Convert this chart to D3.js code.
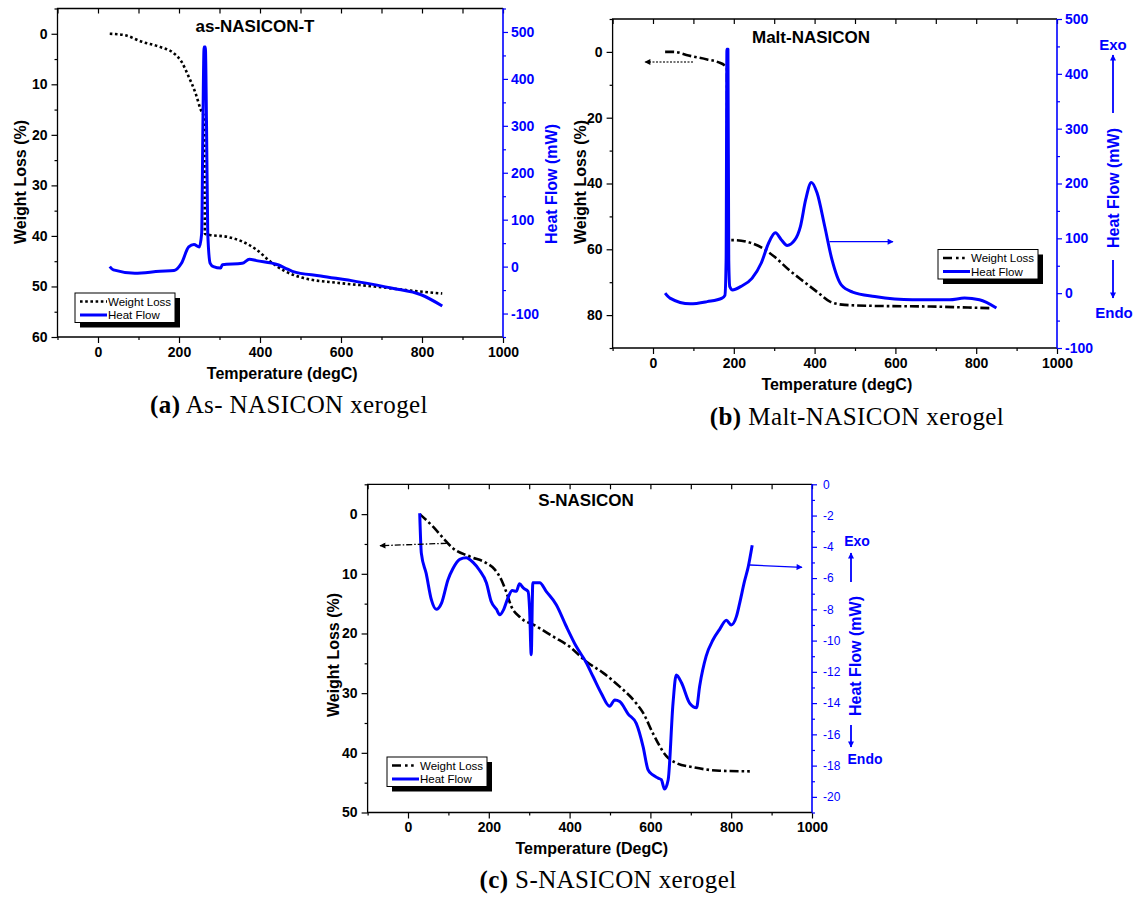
<!DOCTYPE html>
<html>
<head>
<meta charset="utf-8">
<script src="https://cdn.jsdelivr.net/npm/d3@7"></script>
<style>
  body { margin: 0; background: #fff; }
  svg { display: block; }
  text { font-family: Arial, "Liberation Sans", sans-serif; }
</style>
</head>
<body>
<div id="chart"></div>
<script>
// ---- data: [temperature, value] ----
var wlA = [[29,0],[65,0.26],[109,1.6],[153,2.6],[188,3.9],[206,5.5],[224,8.5],[241,11.8],[254,15.1],
  [262,16.5],[264,39.6],[276,39.8],[320,40.2],[356,41.1],[391,42.7],[426,45.1],[462,47.0],[506,48.3],
  [594,49.3],[683,50.0],[771,50.8],[850,51.4]];
var hfA = [[29,0],[38,-7],[91,-14],[153,-10],[188,-8.5],[206,7],[224,42],[237,47],[250,42],[256,71],
  [259,300],[262,468],[265,468],[268,300],[271,71],[277,7],[285,0],[303,-3],[307,4],[356,7],[374,15.6],
  [391,12.8],[444,4],[462,-3],[480,-10],[550,-20],[639,-32],[727,-46],[798,-60],[850,-84]];

var wlB = [[30,0],[51,0],[88,1.1],[134,2.3],[161,3.1],[180,4.4],[183,5],[184.5,57.2],[198,57.2],
  [245,58.2],[272,59.7],[300,62.2],[337,66.3],[374,69.9],[411,73.4],[438,75.9],[475,76.9],[549,77.2],
  [688,77.4],[780,77.7],[836,77.9]];
var hfB = [[30,0],[42,-9],[92,-19.5],[134,-15.4],[171,-9],[178,-4],[181,60],[183,445],[185.5,445],
  [187.5,60],[190,12],[197,6],[217,12],[245,27],[268,55],[286,91],[303,110],[318,97],[332,87],[351,97],
  [365,122],[378,171],[392,202],[406,183],[425,122],[443,61],[466,15],[494,2],[549,-6],[642,-12],
  [734,-12],[771,-9],[808,-12],[850,-27]];

var wlC = [[29,0],[62,2.1],[87,4.0],[111,5.7],[153,7.1],[194,8.2],[215,9.3],[231,11],[243,13],
  [256,15.5],[276,17.2],[318,18.8],[359,20.5],[400,22.2],[441,24.7],[483,26.6],[524,28.9],[565,31.7],
  [582,33.3],[606,36.7],[639,40.5],[664,41.7],[705,42.4],[771,43.0],[846,43.1]];
var hfC = [[29,-1.85],[33,-4.4],[45,-5.7],[58,-7.4],[70,-8.0],[83,-7.6],[99,-6.1],[111,-5.4],[128,-4.8],
  [144,-4.7],[161,-5.0],[177,-5.5],[194,-6.3],[206,-7.5],[219,-8.0],[227,-8.35],[237,-8.0],[247,-7.3],
  [258,-6.8],[268,-6.85],[276,-6.37],[286,-6.65],[297,-6.85],[301,-8.0],[305,-10.9],[309,-6.3],
  [326,-6.3],[342,-6.85],[367,-7.7],[392,-9.1],[417,-10.4],[441,-11.4],[458,-12.3],[479,-13.4],
  [499,-14.2],[512,-13.8],[524,-13.9],[545,-14.7],[565,-15.3],[582,-16.8],[594,-18.25],[606,-18.6],
  [619,-18.8],[627,-18.9],[635,-19.5],[644,-18.9],[656,-14.0],[664,-12.2],[677,-12.7],[697,-14.0],
  [714,-14.3],[722,-12.9],[738,-11.0],[755,-9.95],[771,-9.3],[788,-8.7],[800,-9.0],[813,-8.45],
  [821,-7.6],[833,-6.2],[842,-5.3],[852,-3.9]];

// tick values
var xTicks = [0, 200, 400, 600, 800, 1000];
var xMinor = [-100, 100, 300, 500, 700, 900];
var legendNames = ["Weight Loss", "Heat Flow"];

var svg = d3.select("#chart").append("svg")
  .attr("width", 1145)
  .attr("height", 897);
svg.append("rect").attr("width", 1145).attr("height", 897).attr("fill", "#fff");

var defs = svg.append("defs");
function marker(id, color) {
  defs.append("marker").attr("id", id)
    .attr("viewBox", "0 0 10 10").attr("refX", 9).attr("refY", 5)
    .attr("markerWidth", 7).attr("markerHeight", 6).attr("markerUnits", "userSpaceOnUse")
    .attr("orient", "auto")
    .append("path").attr("d", "M0,0L10,5L0,10Z").attr("fill", color);
}
marker("headBlack", "#000");
marker("headBlue", "#0000ff");

function fmt(d) { return String(d); }

function drawPanel(p) {
  var g = svg.append("g");
  var x = d3.scaleLinear().domain([-100, 1000]).range([p.left, p.right]);
  var yL = d3.scaleLinear().domain(p.yL).range([p.top, p.bottom]);
  var yR = d3.scaleLinear().domain(p.yR).range([p.bottom, p.top]);

  function style(ax, color, size, weight) {
    ax.select(".domain").remove();
    ax.attr("font-family", null).attr("font-size", null);
    ax.selectAll("line").attr("stroke", color).attr("stroke-width", 1.2);
    ax.selectAll("text").attr("fill", color).attr("font-size", size).attr("font-weight", weight);
  }

  // bottom
  style(g.append("g").attr("transform", "translate(0," + p.bottom + ")")
    .call(d3.axisBottom(x).tickValues(xTicks).tickSize(6).tickPadding(4).tickFormat(fmt)), "#000", 14, "bold");
  style(g.append("g").attr("transform", "translate(0," + p.bottom + ")")
    .call(d3.axisBottom(x).tickValues(xMinor).tickSize(3).tickFormat("")), "#000", 14, "bold");
  // top, inward
  style(g.append("g").attr("transform", "translate(0," + p.top + ")")
    .call(d3.axisTop(x).tickValues(xTicks.concat(xMinor)).tickSize(-5).tickFormat("")), "#000", 14, "bold");
  // left
  style(g.append("g").attr("transform", "translate(" + p.left + ",0)")
    .call(d3.axisLeft(yL).tickValues(p.yLTicks).tickSize(6).tickPadding(4).tickFormat(fmt)), "#000", 14, "bold");
  style(g.append("g").attr("transform", "translate(" + p.left + ",0)")
    .call(d3.axisLeft(yL).tickValues(p.yLMinor).tickSize(3).tickFormat("")), "#000", 14, "bold");
  // right (blue)
  style(g.append("g").attr("transform", "translate(" + p.right + ",0)")
    .call(d3.axisRight(yR).tickValues(p.yRTicks).tickSize(5).tickPadding(p.rPad).tickFormat(fmt)), "#0000ff", p.rSize, p.rWeight);
  style(g.append("g").attr("transform", "translate(" + p.right + ",0)")
    .call(d3.axisRight(yR).tickValues(p.yRMinor).tickSize(3).tickFormat("")), "#0000ff", 14, "bold");

  // frame
  g.append("path")
    .attr("d", "M" + p.right + "," + p.top + "H" + p.left + "V" + p.bottom + "H" + p.right)
    .attr("fill", "none").attr("stroke", "#000").attr("stroke-width", 1.3);
  g.append("line").attr("x1", p.right).attr("x2", p.right).attr("y1", p.top).attr("y2", p.bottom)
    .attr("stroke", "#0000ff").attr("stroke-width", 1.6);

  // curves
  var lineL = d3.line().x(d => x(d[0])).y(d => yL(d[1])).curve(d3.curveMonotoneX);
  var lineR = d3.line().x(d => x(d[0])).y(d => yR(d[1])).curve(d3.curveMonotoneX);
  g.append("path").datum(p.wl).attr("d", lineL)
    .attr("fill", "none").attr("stroke", "#000").attr("stroke-width", 2.6)
    .attr("stroke-dasharray", p.wlDash);
  g.append("path").datum(p.hf).attr("d", lineR)
    .attr("fill", "none").attr("stroke", "#0000ff").attr("stroke-width", 3)
    .attr("stroke-linejoin", "round");

  // title & axis labels
  g.append("text").attr("x", p.title[1]).attr("y", p.title[2]).attr("dy", "0.35em")
    .attr("text-anchor", "middle").attr("font-size", 17).attr("font-weight", "bold").text(p.title[0]);
  g.append("text").attr("x", (p.left + p.right) / 2 + 2).attr("y", p.bottom + 36).attr("dy", "0.35em")
    .attr("text-anchor", "middle").attr("font-size", 16).attr("font-weight", "bold").text(p.xLabel);
  g.append("text").attr("transform", "translate(" + p.wlLab[0] + "," + p.wlLab[1] + ") rotate(-90)")
    .attr("dy", "0.35em").attr("text-anchor", "middle").attr("font-size", 16).attr("font-weight", "bold")
    .text("Weight Loss (%)");
  g.append("text").attr("transform", "translate(" + p.hfLab[0] + "," + p.hfLab[1] + ") rotate(-90)")
    .attr("dy", "0.35em").attr("text-anchor", "middle").attr("font-size", 16).attr("font-weight", "bold")
    .attr("fill", "#0000ff").text("Heat Flow (mW)");

  // legend
  var lx = p.legend[0], ly = p.legend[1];
  g.append("rect").attr("x", lx + 5).attr("y", ly + 5).attr("width", 100).attr("height", 29.5).attr("fill", "#000");
  g.append("rect").attr("x", lx).attr("y", ly).attr("width", 100).attr("height", 29.5)
    .attr("fill", "#fff").attr("stroke", "#000").attr("stroke-width", 1);
  g.append("line").attr("x1", lx + 5).attr("x2", lx + 32).attr("y1", ly + 8.5).attr("y2", ly + 8.5)
    .attr("stroke", "#000").attr("stroke-width", 2.6).attr("stroke-dasharray", p.legDash);
  g.append("line").attr("x1", lx + 5).attr("x2", lx + 32).attr("y1", ly + 22).attr("y2", ly + 22)
    .attr("stroke", "#0000ff").attr("stroke-width", 3);
  legendNames.forEach(function(n, i) {
    g.append("text").attr("x", lx + 33).attr("y", ly + 8.5 + i * 13.5).attr("dy", "0.35em")
      .attr("font-size", 11.5).attr("fill", "#000").text(n);
  });

  // caption
  var cap = g.append("text").attr("x", p.caption[2]).attr("y", p.caption[3])
    .attr("text-anchor", "middle").attr("font-size", 25).attr("letter-spacing", 0.4)
    .style("font-family", "'Liberation Serif', 'DejaVu Serif', serif");
  cap.append("tspan").attr("font-weight", "bold").text(p.caption[0]);
  cap.append("tspan").text(" " + p.caption[1]);
  return g;
}

drawPanel({
  left: 57.5, right: 503, top: 8.5, bottom: 337,
  yL: [-5, 60], yLTicks: [0, 10, 20, 30, 40, 50, 60], yLMinor: [-5, 5, 15, 25, 35, 45, 55],
  yR: [-150, 550], yRTicks: [-100, 0, 100, 200, 300, 400, 500], yRMinor: [-150, -50, 50, 150, 250, 350, 450, 550],
  rPad: 3, rSize: 14, rWeight: "bold",
  wl: wlA, hf: hfA,
  wlDash: "2.6,2.6", legDash: "2.6,2.6",
  title: ["as-NASICON-T", 255, 26], xLabel: "Temperature (degC)",
  wlLab: [20, 182], hfLab: [551, 184],
  legend: [75, 293],
  caption: ["(a)", "As- NASICON xerogel", 289, 413]
});

var gB = drawPanel({
  left: 612.6, right: 1057, top: 19, bottom: 348,
  yL: [-10, 90], yLTicks: [0, 20, 40, 60, 80], yLMinor: [-10, 10, 30, 50, 70, 90],
  yR: [-100, 500], yRTicks: [-100, 0, 100, 200, 300, 400, 500], yRMinor: [-50, 50, 150, 250, 350, 450],
  rPad: 3, rSize: 14, rWeight: "bold",
  wl: wlB, hf: hfB,
  wlDash: "9,3,2.6,3", legDash: "9,4,2.6,3.5,2.6,20",
  title: ["Malt-NASICON", 811, 37], xLabel: "Temperature (degC)",
  wlLab: [580, 182], hfLab: [1113, 188],
  legend: [938, 249.5],
  caption: ["(b)", "Malt-NASICON xerogel", 857, 425]
});

var gC = drawPanel({
  left: 367.6, right: 812, top: 484.3, bottom: 812.5,
  yL: [-5, 50], yLTicks: [0, 10, 20, 30, 40, 50], yLMinor: [-5, 5, 15, 25, 35, 45],
  yR: [-21, 0], yRTicks: d3.range(0, -21, -2), yRMinor: d3.range(-1, -22, -2),
  rPad: 6, rSize: 12, rWeight: "normal",
  wl: wlC, hf: hfC,
  wlDash: "9,3,2.6,3", legDash: "9,4,2.6,3.5,2.6,20",
  title: ["S-NASICON", 586, 500], xLabel: "Temperature (DegC)",
  wlLab: [333, 655], hfLab: [855, 656],
  legend: [387, 757],
  caption: ["(c)", "S-NASICON xerogel", 608, 888]
});

// annotation arrows
function arrow(g, x1, y1, x2, y2, color, dash, head) {
  g.append("line").attr("x1", x1).attr("y1", y1).attr("x2", x2).attr("y2", y2)
    .attr("stroke", color).attr("stroke-width", 1.3)
    .attr("stroke-dasharray", dash).attr("marker-end", "url(#" + head + ")");
}
arrow(gB, 693, 62, 645, 62, "#444", "2,1.5", "headBlack");
arrow(gB, 829.5, 241.7, 893, 241.7, "#0000ff", null, "headBlue");
arrow(gC, 446.7, 543.3, 380, 545.7, "#000", "6,2,1.5,2", "headBlack");
arrow(gC, 750, 565, 802, 567.3, "#0000ff", null, "headBlue");

// exo / endo markers
function exoEndo(g, x, labX, exoY, upFrom, upTo, downFrom, downTo, endoY, endoX, size) {
  g.append("text").attr("x", labX).attr("y", exoY).attr("dy", "0.35em").attr("text-anchor", "middle")
    .attr("font-size", size).attr("font-weight", "bold").attr("fill", "#0000ff").text("Exo");
  g.append("text").attr("x", endoX).attr("y", endoY).attr("dy", "0.35em").attr("text-anchor", "middle")
    .attr("font-size", size).attr("font-weight", "bold").attr("fill", "#0000ff").text("Endo");
  g.append("line").attr("x1", x).attr("x2", x).attr("y1", upFrom).attr("y2", upTo)
    .attr("stroke", "#0000ff").attr("stroke-width", 1.8).attr("marker-end", "url(#headBlue)");
  g.append("line").attr("x1", x).attr("x2", x).attr("y1", downFrom).attr("y2", downTo)
    .attr("stroke", "#0000ff").attr("stroke-width", 1.8).attr("marker-end", "url(#headBlue)");
}
exoEndo(gB, 1113, 1113, 45, 113, 55, 260, 298, 313, 1114, 15);
exoEndo(gC, 851, 857, 541, 582, 553, 725, 747, 759, 865, 14);
</script>
</body>
</html>
